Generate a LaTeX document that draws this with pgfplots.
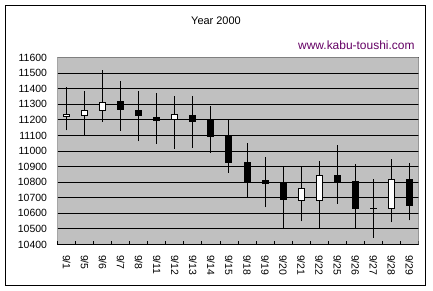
\documentclass[border=0pt]{standalone}
\usepackage{pgfplots}
\usepackage{pgfplotstable}
\pgfplotsset{compat=1.18}
\usepackage{fontspec}
\setmainfont{Liberation Sans}
\definecolor{plotbg}{RGB}{192,192,192}
\definecolor{wm}{RGB}{100,0,100}
\definecolor{edge}{RGB}{128,128,128}
% x, low, body bottom, body top, high, col (1 = white body / close above open, 0 = black)
\pgfplotstableread{
x  low   blo   bhi   high  col
0  11133 11222 11235 11412 1
1  11100 11229 11259 11386 1
2  11189 11261 11311 11521 1
3  11129 11266 11319 11451 0
4  11061 11228 11261 11386 0
5  11048 11198 11217 11373 0
6  11013 11202 11236 11354 1
7  11021 11189 11226 11354 0
8  10989 11092 11198 11289 0
9  10862 10929 11092 11206 0
10 10700 10806 10923 11051 0
11 10640 10790 10813 10962 0
12 10500 10687 10798 10902 0
13 10549 10683 10760 10902 1
14 10500 10683 10843 10936 1
15 10662 10806 10843 11038 0
16 10500 10629 10806 10915 0
17 10443 10630 10632 10819 0
18 10543 10629 10817 10947 1
19 10555 10649 10817 10924 0
}\candles
\pgfplotsset{frame/.style={at={(57.5bp,46.5bp)}, anchor=south west,
  scale only axis, width=361bp, height=187bp,
  xmin=-0.5, xmax=19.5, ymin=10400, ymax=11600}}
\begin{document}
\begin{tikzpicture}
\path (0bp,0bp) rectangle (433bp,291bp);
\draw[line width=1bp] (5.5bp,5.5bp) rectangle (425.5bp,285.5bp);
\node[font=\fontsize{11}{13}\selectfont] at (216bp,270.5bp) {Year 2000};
\node[anchor=east, text=wm, font=\fontsize{12}{14}\selectfont] at (418bp,246bp) {www.kabu-toushi.com};
\begin{axis}[frame,
  axis background/.style={fill=plotbg},
  axis line style={draw=none},
  ytick={10400,10500,...,11600},
  scaled y ticks=false,
  ymajorgrids, major grid style={black, line width=0.9bp},
  ytick pos=left, xtick pos=lower,
  tick align=inside, major tick length=3bp,
  tick style={black, line width=0.9bp},
  /pgf/number format/assume math mode=true,
  /pgf/number format/set thousands separator={},
  yticklabel style={font=\fontsize{10.5}{12}\selectfont, xshift=-7bp},
  xtick={0,...,19},
  xticklabels={9/1,9/5,9/6,9/7,9/8,9/11,9/12,9/13,9/14,9/15,9/18,9/19,9/20,9/21,9/22,9/25,9/26,9/27,9/28,9/29},
  x tick style={draw=none},
  xticklabel style={rotate=-90, anchor=west, font=\fontsize{10.5}{12}\selectfont},
  xticklabel shift=7bp,
  extra x ticks={-0.5,0.5,...,19.5},
  extra x tick labels={},
  extra x tick style={grid=none, x tick style={draw=black}},
]
\addplot[draw=none, mark=none, forget plot,
  error bars/.cd, y dir=plus, y explicit,
  error mark=none, error bar style={draw=black, line width=1bp}]
  table[x=x, y=low, y error plus expr=\thisrow{high}-\thisrow{low}] {\candles};
\draw[edge, line width=0.9bp] (rel axis cs:0,1) -- (rel axis cs:1,1) -- (rel axis cs:1,0);
\draw[black, line width=0.9bp] (rel axis cs:0,1) -- (rel axis cs:0,0) -- (rel axis cs:1,0);
\end{axis}
\begin{axis}[frame, hide axis, ybar stacked, bar width=6bp]
\addplot[draw=none, fill=none, forget plot] table[x=x, y=blo] {\candles};
\addplot[draw=black, line width=1bp, fill=white, forget plot]
  table[x=x, y expr=\thisrow{col}*(\thisrow{bhi}-\thisrow{blo})] {\candles};
\addplot[draw=black, line width=1bp, fill=black, forget plot]
  table[x=x, y expr=(1-\thisrow{col})*(\thisrow{bhi}-\thisrow{blo})] {\candles};
\end{axis}
\end{tikzpicture}
\end{document}
